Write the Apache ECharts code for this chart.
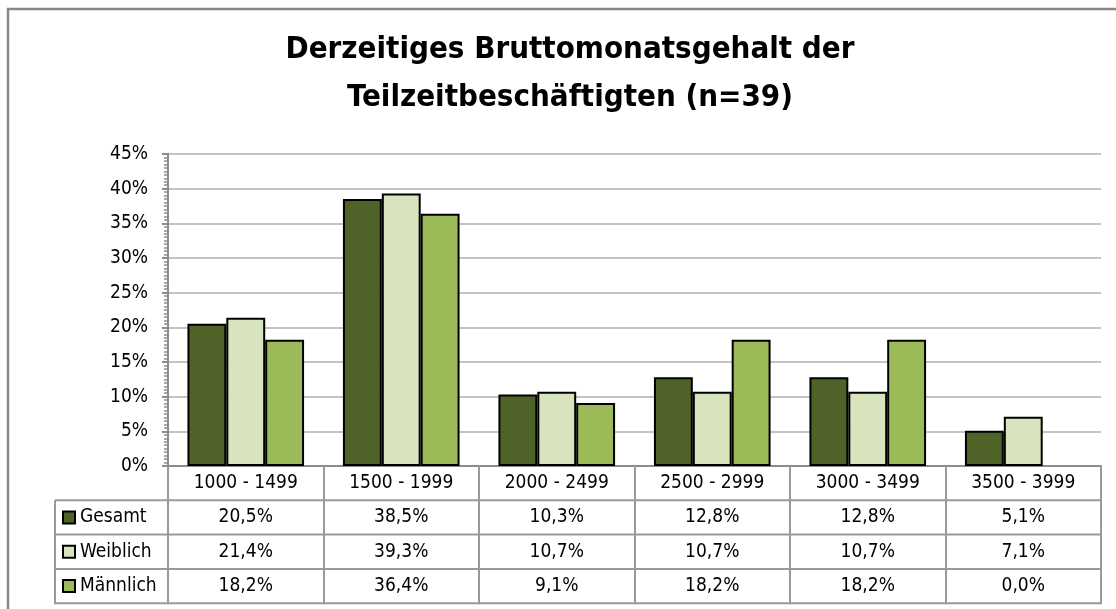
<!DOCTYPE html>
<html>
<head>
<meta charset="utf-8">
<script src="https://cdn.jsdelivr.net/npm/echarts@6/dist/echarts.min.js"></script>
<style>
  html, body { margin: 0; padding: 0; background: #fff; }
  #chart { width: 1116px; height: 609px; }
</style>
</head>
<body>
<div id="chart"></div>
<script>
var categories = ["1000 - 1499", "1500 - 1999", "2000 - 2499", "2500 - 2999", "3000 - 3499", "3500 - 3999"];
var gesamt = [20.5, 38.5, 10.3, 12.8, 12.8, 5.1];
var weiblich = [21.4, 39.3, 10.7, 10.7, 10.7, 7.1];
var maennlich = [18.2, 36.4, 9.1, 18.2, 18.2, 0.0];
var seriesNames = ["Gesamt", "Weiblich", "Männlich"];

var FONT = '"Liberation Sans Narrow", "DejaVu Sans Condensed", "Arial Narrow", sans-serif';
var gridLeft = 168, gridTop = 154, gridW = 933, gridH = 312;
var rowH = 34.3;
var tableLeft = 55;
var lineGray = "#9a9a9a";

function pct(v) {
  return v.toFixed(1).replace(".", ",") + "%";
}

// zero bars get no outline (Excel draws nothing there)
function barData(arr) {
  return arr.map(function (v) {
    return v === 0 ? { value: v, itemStyle: { borderWidth: 0 } } : v;
  });
}

var myChart = echarts.init(document.getElementById("chart"));

// table lines below the plot
var gridBottomY = gridTop + gridH;
var tableGraphics = [];
for (var k = 1; k <= 4; k++) {
  var y = gridBottomY + k * rowH;
  tableGraphics.push({
    type: "line",
    shape: { x1: tableLeft, y1: y, x2: gridLeft + gridW, y2: y },
    style: { stroke: lineGray, lineWidth: 2 },
    silent: true
  });
}
tableGraphics.push({
  type: "line",
  shape: { x1: tableLeft, y1: gridBottomY + rowH, x2: tableLeft, y2: gridBottomY + 4 * rowH + 1 },
  style: { stroke: lineGray, lineWidth: 2 },
  silent: true
});
// chart area border
tableGraphics.push({
  type: "rect",
  shape: { x: 8, y: 9, width: 1300, height: 800 },
  style: { fill: "none", stroke: "#878787", lineWidth: 2.5 },
  silent: true
});

var option = {
  animation: false,
  textStyle: { fontFamily: FONT },
  title: {
    text: "Derzeitiges Bruttomonatsgehalt der\nTeilzeitbeschäftigten (n=39)",
    left: 570,
    top: 26,
    textAlign: "center",
    padding: 0,
    textStyle: {
      fontFamily: FONT,
      fontSize: 31,
      fontWeight: "bold",
      color: "#000",
      lineHeight: 48
    }
  },
  legend: {
    data: seriesNames,
    orient: "vertical",
    left: 62,
    top: gridBottomY + rowH,
    padding: 0,
    itemGap: 0,
    itemWidth: 12,
    itemHeight: 12,
    icon: "rect",
    selectedMode: false,
    textStyle: {
      fontFamily: FONT,
      fontSize: 19,
      color: "#000",
      lineHeight: rowH,
      height: rowH
    }
  },
  grid: {
    left: gridLeft,
    top: gridTop,
    width: gridW,
    height: gridH,
    containLabel: false
  },
  xAxis: {
    type: "category",
    data: categories,
    axisLine: { lineStyle: { color: "#8c8c8c", width: 2 } },
    axisTick: {
      show: true,
      alignWithLabel: false,
      interval: 0,
      length: rowH * 4 + 1,
      lineStyle: { color: lineGray, width: 2 }
    },
    axisLabel: {
      interval: 0,
      margin: 0,
      formatter: function (value, idx) {
        return "{c|" + value + "}\n{c|" + pct(gesamt[idx]) + "}\n{c|" +
          pct(weiblich[idx]) + "}\n{c|" + pct(maennlich[idx]) + "}";
      },
      rich: {
        c: {
          fontFamily: FONT,
          fontSize: 19,
          color: "#000",
          lineHeight: rowH,
          height: rowH,
          align: "center"
        }
      }
    }
  },
  yAxis: {
    type: "value",
    min: 0,
    max: 45,
    interval: 5,
    axisLine: { show: true, lineStyle: { color: "#8c8c8c", width: 2 } },
    axisTick: { show: true, length: 6, lineStyle: { color: "#8c8c8c", width: 2 } },
    minorTick: { show: true, splitNumber: 10, length: 4, lineStyle: { color: "#8c8c8c", width: 1.5 } },
    splitLine: { lineStyle: { color: "#c4c4c4", width: 2 } },
    axisLabel: {
      formatter: "{value}%",
      margin: 20,
      fontFamily: FONT,
      fontSize: 19,
      color: "#000"
    }
  },
  series: [
    {
      name: "Gesamt",
      type: "bar",
      data: barData(gesamt),
      barGap: "0%",
      barCategoryGap: "25%",
      itemStyle: { color: "#4f6228", borderColor: "#000", borderWidth: 2 }
    },
    {
      name: "Weiblich",
      type: "bar",
      data: barData(weiblich),
      itemStyle: { color: "#d7e4bd", borderColor: "#000", borderWidth: 2 }
    },
    {
      name: "Männlich",
      type: "bar",
      data: barData(maennlich),
      itemStyle: { color: "#9bbb59", borderColor: "#000", borderWidth: 2 }
    }
  ],
  graphic: tableGraphics
};

myChart.setOption(option);
</script>
</body>
</html>
